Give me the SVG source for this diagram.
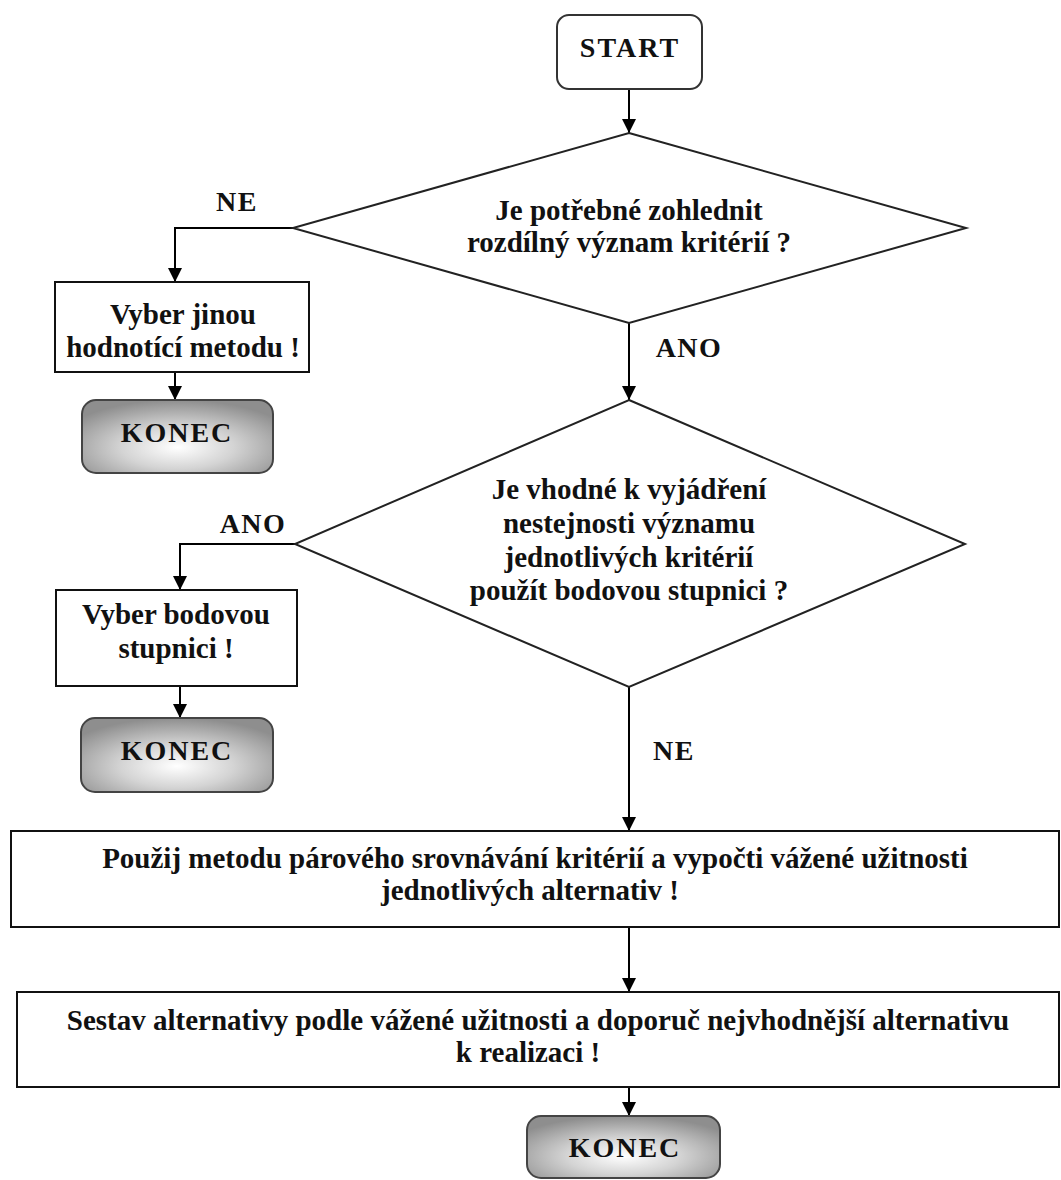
<svg xmlns="http://www.w3.org/2000/svg" width="1061" height="1180" viewBox="0 0 1061 1180">
  <defs>
    <marker id="head" markerWidth="14" markerHeight="14" refX="14" refY="7" orient="auto" markerUnits="userSpaceOnUse">
      <path d="M0,0 L14,7 L0,14 Z" fill="#000"/>
    </marker>
    <radialGradient id="endFill" cx="50%" cy="65%" r="65%">
      <stop offset="0" stop-color="#ffffff"/>
      <stop offset="0.45" stop-color="#d4d4d4"/>
      <stop offset="1" stop-color="#8e8e8e"/>
    </radialGradient>
  </defs>
  <style>
    text { font-family: "Liberation Serif", "Times New Roman", serif; font-weight: bold; font-size: 29px; fill: #111; text-anchor: middle; }
    .box { fill: #fff; stroke: #111; stroke-width: 2; }
    .start { fill: #fff; stroke: #333; stroke-width: 2; }
    .end { fill: url(#endFill); stroke: #444; stroke-width: 2; }
    .dec { fill: #fff; stroke: #222; stroke-width: 2; }
    .conn { fill: none; stroke: #000; stroke-width: 2; marker-end: url(#head); }
    .label { font-size: 28px; letter-spacing: 1.5px; }
    .term { font-size: 28px; letter-spacing: 2px; }
  </style>
  <rect width="1061" height="1180" fill="#fff"/>

  <!-- connectors and branch labels -->
  <g id="connectors">
    <path class="conn" d="M629,89 V133"/>
    <path class="conn" d="M293,228 H175 V282"/>
    <path class="conn" d="M175,372 V400"/>
    <path class="conn" d="M629,323 V400"/>
    <path class="conn" d="M295,544 H180 V590"/>
    <path class="conn" d="M180,686 V718"/>
    <path class="conn" d="M629,687 V831"/>
    <path class="conn" d="M629,927 V992"/>
    <path class="conn" d="M629,1087 V1116"/>
    <text class="label" x="237" y="211">NE</text>
    <text class="label" x="689" y="357">ANO</text>
    <text class="label" x="253" y="533">ANO</text>
    <text class="label" x="674" y="760">NE</text>
  </g>

  <g id="start">
    <rect class="start" x="557" y="15" width="145" height="74" rx="12"/>
    <text class="term" x="630" y="57">START</text>
  </g>

  <g id="decision1">
    <polygon class="dec" points="629,133 966,228 629,323 293,228"/>
    <text x="629" y="220">Je potřebné zohlednit</text>
    <text x="629" y="252">rozdílný význam kritérií ?</text>
  </g>

  <g id="other-method">
    <rect class="box" x="55" y="282" width="254" height="90"/>
    <text x="183" y="324">Vyber jinou</text>
    <text x="183" y="357">hodnotící metodu !</text>
  </g>

  <g id="end1">
    <rect class="end" x="82" y="400" width="191" height="73" rx="14"/>
    <text class="term" x="177" y="442">KONEC</text>
  </g>

  <g id="decision2">
    <polygon class="dec" points="629,400 965,544 629,687 295,544"/>
    <text x="629" y="499">Je vhodné k vyjádření</text>
    <text x="629" y="533">nestejnosti významu</text>
    <text x="629" y="567">jednotlivých kritérií</text>
    <text x="629" y="600">použít bodovou stupnici ?</text>
  </g>

  <g id="point-scale">
    <rect class="box" x="56" y="590" width="241" height="96"/>
    <text x="176" y="624">Vyber bodovou</text>
    <text x="176" y="658">stupnici !</text>
  </g>

  <g id="end2">
    <rect class="end" x="81" y="718" width="192" height="74" rx="14"/>
    <text class="term" x="177" y="760">KONEC</text>
  </g>

  <g id="pairwise">
    <rect class="box" x="11" y="831" width="1048" height="96"/>
    <text x="535" y="868">Použij metodu párového srovnávání kritérií a vypočti vážené užitnosti</text>
    <text x="530" y="900">jednotlivých alternativ !</text>
  </g>

  <g id="ranking">
    <rect class="box" x="17" y="992" width="1042" height="95"/>
    <text x="538" y="1030">Sestav alternativy podle vážené užitnosti a doporuč nejvhodnější alternativu</text>
    <text x="528" y="1062">k realizaci !</text>
  </g>

  <g id="end3">
    <rect class="end" x="527" y="1116" width="193" height="62" rx="14"/>
    <text class="term" x="625" y="1157">KONEC</text>
  </g>
</svg>
